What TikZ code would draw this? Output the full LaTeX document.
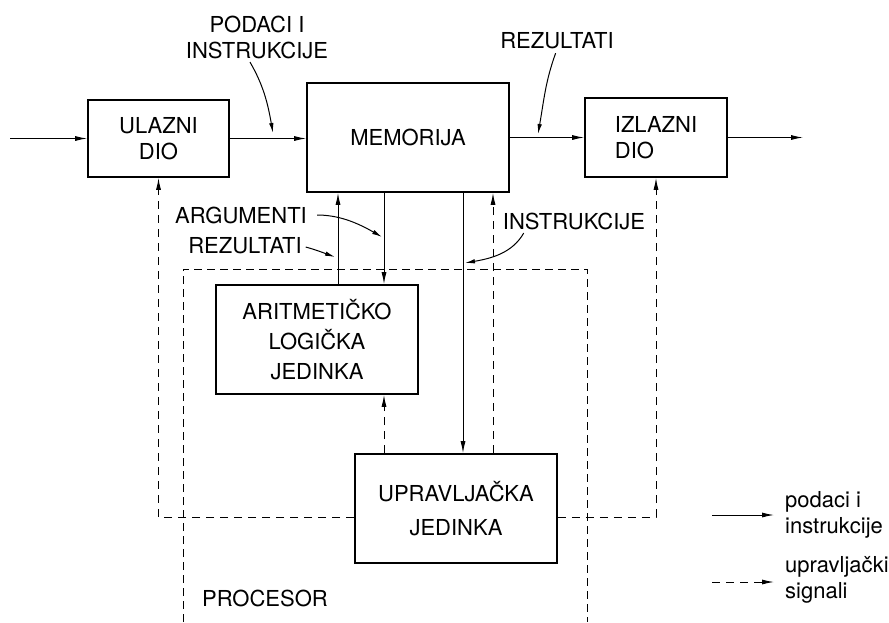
\documentclass[tikz,border=0pt]{standalone}
\usepackage{fontspec}
\setmainfont{TeX Gyre Heros}
\usetikzlibrary{arrows.meta}

\begin{document}
\begin{tikzpicture}[x=1pt,y=-1pt,font=\fontsize{22}{26}\selectfont,
   blok/.style={draw,line width=1.6pt,inner sep=0pt,align=center},
   tekst/.style={inner sep=0pt},
   tok/.style={line width=1pt,-{Latex[length=12pt,width=5pt]}},
   sig/.style={tok,dash pattern=on 8pt off 6pt},
   oznaka/.style={line width=1pt,shorten <=4pt,-{Latex[length=10pt,width=4.5pt]}},
   okvir/.style={line width=0.9pt,dash pattern=on 8pt off 5pt}]
   \useasboundingbox (0,0) rectangle (889,622);

   % blokovi
   \node[blok,minimum width=141pt,minimum height=77pt] (ulaz) at (158.5,138.5) {ULAZNI\\DIO};
   \node[blok,minimum width=202pt,minimum height=109pt] (mem) at (408,137.5) {MEMORIJA};
   \node[blok,minimum width=142pt,minimum height=79pt,align=left] (izlaz) at (656,137.5) {IZLAZNI\\DIO};
   \node[blok,minimum width=202pt,minimum height=109pt] (alu) at (317,339.5) {ARITMETIČKO\\[4pt]LOGIČKA\\[4pt]JEDINKA};
   \node[blok,minimum width=202pt,minimum height=109pt] (upr) at (456,508.5) {UPRAVLJAČKA\\[8pt]JEDINKA};

   % procesor
   \draw[okvir] (183,622) -- (183,269) -- (587,269) -- (587,622);
   \node[tekst,anchor=west] (proc) at (202,598) {PROCESOR};

   % ulaz i izlaz
   \coordinate (ulazak) at (10,140);
   \coordinate (izlazak) at (803,137);
   \draw[tok] (ulaz.west -| ulazak) -- (ulaz.west);
   \draw[tok] (ulaz.east) -- (ulaz.east -| mem.west);
   \draw[tok] (mem.east) -- (izlaz.west);
   \draw[tok] (izlaz.east) -- (izlaz.east -| izlazak);

   % veze memorija - procesor
   \coordinate (xrez) at (338,0);
   \coordinate (xarg) at (384,0);
   \coordinate (xins) at (463,0);
   \coordinate (xupr) at (493,0);
   \draw[tok] (alu.north -| xrez) -- (mem.south -| xrez);
   \draw[tok] (mem.south -| xarg) -- (alu.north -| xarg);
   \draw[tok] (mem.south -| xins) -- (upr.north -| xins);
   \draw[sig] (upr.north -| xupr) -- (mem.south -| xupr);
   \draw[sig] (upr.north -| xarg) -- (alu.south -| xarg);

   % upravljacki signali
   \coordinate (yctl) at (0,517);
   \draw[sig] (upr.west |- yctl) -| (ulaz.south);
   \draw[sig] (upr.east |- yctl) -| (izlaz.south);

   % oznake
   \node[tekst,align=center] (pod) at (257,37) {PODACI I\\INSTRUKCIJE};
   \node[tekst] (rez1) at (557,41) {REZULTATI};
   \node[tekst] (arg) at (241,215) {ARGUMENTI};
   \node[tekst] (rez2) at (245,246) {REZULTATI};
   \node[tekst] (ins) at (574,221) {INSTRUKCIJE};
   \coordinate (tpod) at (273,133);
   \coordinate (trez1) at (538,134);
   \coordinate (targ) at (382,237);
   \coordinate (trez2) at (335,257);
   \coordinate (tins) at (465,263);
   \draw[oznaka] ([xshift=-9pt]pod.south) to[out=-60,in=100] (tpod);
   \draw[oznaka] (rez1.south) to[out=-110,in=80] (trez1);
   \draw[oznaka,shorten <=10pt] (arg.east) to[out=0,in=150] (targ);
   \draw[oznaka] (rez2.east) to[out=-15,in=160] (trez2);
   \draw[oznaka] ([xshift=23pt]ins.south west) to[out=-120,in=10] (tins);

   % legenda
   \coordinate (leg1) at (712,515);
   \coordinate (leg2) at (712,582);
   \node[tekst,anchor=west,align=left] (podtxt) at (785,515) {podaci i\\instrukcije};
   \node[tekst,anchor=west,align=left] (sigtxt) at (785,580) {upravljački\\signali};
   \draw[tok,shorten >=11pt] (leg1) -- (leg1 -| podtxt.west);
   \draw[sig,shorten >=11pt] (leg2) -- (leg2 -| sigtxt.west);
\end{tikzpicture}
\end{document}
